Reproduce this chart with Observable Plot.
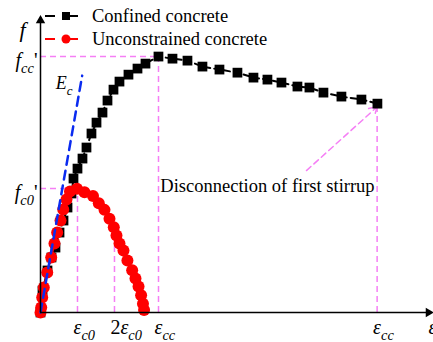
<!DOCTYPE html>
<html><head><meta charset="utf-8">
<script src="https://cdn.jsdelivr.net/npm/d3@7"></script>
<script src="https://cdn.jsdelivr.net/npm/@observablehq/plot@0.6"></script>
<style>body{margin:0;background:#fff}#chart{width:433px;height:342px}</style>
</head><body><div id="chart"></div>
<script>
// Normalised units: strain in multiples of eps_c0, stress in multiples of f_c0'
const xMax = 10.57, yMax = 2.38;
const confinedStrain = [0,0.054,0.189,0.297,0.405,0.514,0.622,0.730,0.838,0.892,1.0,1.135,1.243,1.378,1.514,1.676,1.811,1.973,2.135,2.378,2.622,2.838,3.189,3.568,3.973,4.378,4.838,5.324,5.757,6.135,6.514,6.946,7.270,7.649,8.135,8.676,9.108];
const confinedStress = [0,0.177,0.339,0.444,0.524,0.645,0.742,0.847,0.960,1.081,1.161,1.242,1.331,1.444,1.532,1.613,1.710,1.798,1.863,1.919,1.968,2.008,2.065,2.048,2.032,1.984,1.960,1.935,1.895,1.879,1.855,1.823,1.815,1.774,1.742,1.718,1.685];
const unconStrain = [0,0.019,0.046,0.089,0.181,0.289,0.378,0.451,0.541,0.614,0.703,0.797,0.986,1.189,1.419,1.576,1.730,1.865,1.981,2.054,2.135,2.243,2.350,2.478,2.568,2.650,2.720,2.770,2.800];
const unconStress = [0,0.040,0.121,0.202,0.323,0.444,0.556,0.645,0.742,0.831,0.911,0.976,0.998,0.970,0.940,0.881,0.828,0.756,0.688,0.621,0.556,0.500,0.420,0.340,0.275,0.210,0.140,0.070,0.020];
const ecStrain = [0, 1.127];
const ecStress = [0, 1.911];
const strainTicks = [1, 2, 3.19, 9.1];
const strainTickLabels = ["ε_c0", "2ε_c0", "ε_cc", "ε_cc"];
const guideTop = [1.0, 0.66, 2.065, 1.685];
const stressTicks = [2.065, 1.0];
const stressTickLabels = ["f_cc'", "f_c0'"];
const stressGuideEnd = [3.19, 1.0];
const annArrowFrom = [7.19, 1.145], annArrowTo = [9.108, 1.661];
const annText = "Disconnection of first stirrup", annPos = [3.24, 1.02];
const seriesNames = ["Confined concrete", "Unconstrained concrete"];
const seriesColors = ["#000000", "#ff0000"];
const pink = "#f57ff5", blue = "#0a2bf0";

const conf = confinedStrain.map((x, i) => ({x, y: confinedStress[i]}));
const unc = unconStrain.map((x, i) => ({x, y: unconStress[i]}));
const ec = ecStrain.map((x, i) => ({x, y: ecStress[i]}));
const xt = strainTicks.map((x, i) => ({x, top: guideTop[i], label: strainTickLabels[i]}));
const yt = stressTicks.map((y, i) => ({y, end: stressGuideEnd[i], label: stressTickLabels[i]}));

const serif = "Liberation Serif, Times New Roman, serif";
const svg = Plot.plot({
  width: 433, height: 342,
  marginTop: 0, marginLeft: 0, marginRight: 0, marginBottom: 0,
  x: {domain: [0, xMax], range: [40, 431], axis: null},
  y: {domain: [0, yMax], range: [312, 17], axis: null},
  style: {fontFamily: serif, background: "white"},
  marks: [
    Plot.ruleX(xt, {x: "x", y1: 0, y2: "top", stroke: pink, strokeWidth: 1.5, strokeDasharray: "6,4"}),
    Plot.ruleY(yt, {y: "y", x1: 0, x2: "end", stroke: pink, strokeWidth: 1.5, strokeDasharray: "6,4"}),
    Plot.arrow([0], {x1: () => annArrowFrom[0], y1: () => annArrowFrom[1], x2: () => annArrowTo[0], y2: () => annArrowTo[1], stroke: pink, strokeWidth: 1.5, strokeDasharray: "6,4", headLength: 9}),
    Plot.line(conf, {x: "x", y: "y", stroke: seriesColors[0], strokeWidth: 2, strokeDasharray: "6,4"}),
    Plot.dot(conf, {x: "x", y: "y", symbol: "square", r: 5.5, fill: seriesColors[0], stroke: "none"}),
    Plot.line(unc, {x: "x", y: "y", stroke: seriesColors[1], strokeWidth: 2, strokeDasharray: "6,4"}),
    Plot.dot(unc, {x: "x", y: "y", r: 6, fill: seriesColors[1], stroke: "none"}),
    Plot.line(ec, {x: "x", y: "y", stroke: blue, strokeWidth: 2.5, strokeDasharray: "9,6"}),
    Plot.ruleY([0], {x1: 0, x2: xMax, stroke: "black", strokeWidth: 1.5}),
    Plot.ruleX([0], {y1: 0, y2: yMax, stroke: "black", strokeWidth: 1.5}),
    Plot.dot([0], {x: () => 0, y: () => yMax, symbol: "triangle", r: 3.5, fill: "black", dy: 3}),
    Plot.dot([0], {x: () => xMax, y: () => 0, symbol: "triangle", r: 3.5, fill: "black", rotate: 90, dx: -3}),
    Plot.text(xt, {x: "x", y: () => 0, text: "label", textAnchor: "start", dx: -4, dy: 15, fontSize: 20, fontStyle: "italic"}),
    Plot.text(yt, {x: () => 0, y: "y", text: "label", textAnchor: "end", dx: -3, dy: 4, fontSize: 20, fontStyle: "italic"}),
    Plot.text(["E_c"], {x: () => ecStrain[1], y: () => ecStress[1], text: d => d, textAnchor: "middle", dx: -18, dy: 8, fontSize: 18, fontStyle: "italic"}),
    Plot.text(["f"], {x: () => 0, y: () => yMax, text: d => d, textAnchor: "middle", dx: -18, dy: 12, fontSize: 22, fontStyle: "italic"}),
    Plot.text(["ε"], {x: () => xMax, y: () => 0, text: d => d, textAnchor: "start", dx: -3, dy: 15, fontSize: 20, fontStyle: "italic"}),
    Plot.text([annText], {x: () => annPos[0], y: () => annPos[1], text: d => d, textAnchor: "start", fontSize: 18.5})
  ]
});

// subscripts for math labels written as main_sub
const ns = "http://www.w3.org/2000/svg";
svg.querySelectorAll("text").forEach(t => {
  const m = t.textContent.match(/^(\d*)([^_]+)_([^']+)('?)$/);
  if (!m) return;
  while (t.firstChild) t.removeChild(t.firstChild);
  const add = (txt, attrs) => { const s = document.createElementNS(ns, "tspan"); s.textContent = txt; for (const k in attrs) s.setAttribute(k, attrs[k]); t.appendChild(s); };
  if (m[1]) add(m[1], {"font-style": "normal"});
  add(m[2], {});
  add(m[3], {"font-size": "72%", dy: 6});
  if (m[4]) add(m[4], {"font-style": "normal", dy: -6});
});

// legend
const lg = d3.select(svg).append("g").attr("font-family", serif).attr("font-size", 18.5).attr("text-anchor", "start");
seriesNames.forEach((name, i) => {
  const cy = 16 + i * 23;
  const g = lg.append("g").attr("transform", `translate(0,${cy})`);
  g.append("line").attr("x1", 45).attr("x2", 55).attr("y1", 0).attr("y2", 0).attr("stroke", seriesColors[i]).attr("stroke-width", 2);
  g.append("line").attr("x1", 70).attr("x2", 78).attr("y1", 0).attr("y2", 0).attr("stroke", seriesColors[i]).attr("stroke-width", 2);
  if (i === 0) g.append("rect").attr("x", 62).attr("y", -4).attr("width", 8).attr("height", 8).attr("fill", seriesColors[i]);
  else g.append("circle").attr("cx", 66).attr("cy", 0).attr("r", 4.5).attr("fill", seriesColors[i]);
  g.append("text").attr("x", 92).attr("y", 6).attr("fill", "black").text(name);
});

document.getElementById("chart").appendChild(svg);
</script>
</body></html>
